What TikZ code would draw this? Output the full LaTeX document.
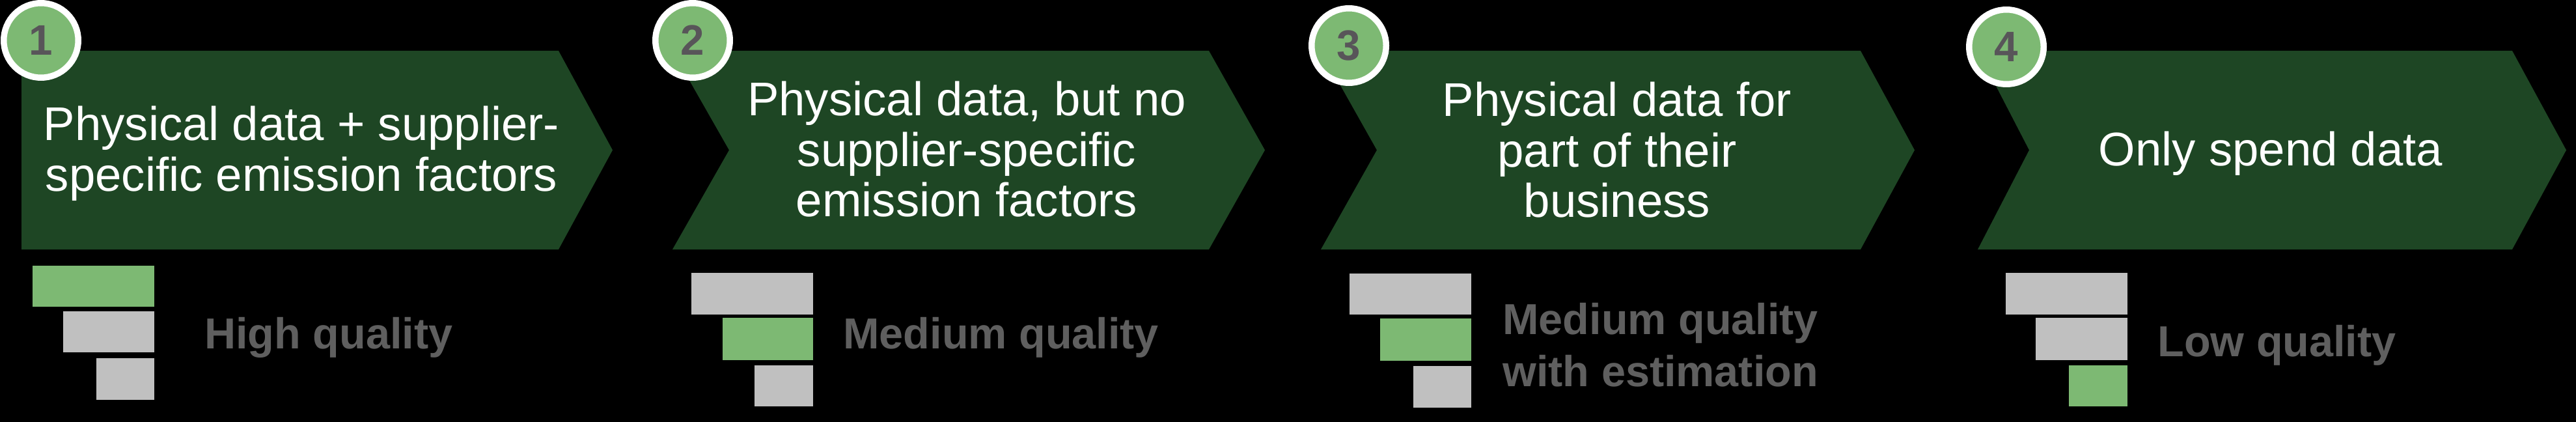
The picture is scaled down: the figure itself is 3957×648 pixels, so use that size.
\documentclass[tikz,border=0pt]{standalone}
\usepackage{fontspec}
\setmainfont{Liberation Sans}

\definecolor{chevgreen}{RGB}{30,70,36}
\definecolor{lightgreen}{RGB}{125,185,115}
\definecolor{bargray}{RGB}{192,192,192}
\definecolor{labelgray}{RGB}{95,95,95}
\definecolor{numgray}{RGB}{88,85,89}

\begin{document}
\begin{tikzpicture}[x=0.02cm, y=-0.02cm,
  chevron/.style={fill=chevgreen},
  greenbar/.style={fill=lightgreen},
  graybar/.style={fill=bargray},
  badge/.style={circle, fill=lightgreen, draw=white, line width=0.19cm,
    minimum size=2.29cm, inner sep=0pt, text=numgray,
    font=\fontsize{37.3}{40}\selectfont\bfseries},
  headtext/.style={anchor=north, align=center, inner sep=0pt, text=white,
    font=\fontsize{41.3}{44.1}\selectfont},
  quality/.style={inner sep=0pt, text=labelgray,
    font=\fontsize{37.9}{45.5}\selectfont\bfseries}]

  \useasboundingbox (0,0) rectangle (3957,648);
  \fill[black] (0,0) rectangle (3957,648);

  \fill[chevron] (33,78) -- (858,78) -- (941,230.5) -- (858,383) -- (33,383) -- cycle;
  \node[headtext] (t1) at (463,163) {Physical data + supplier-\\specific emission factors};
  \node[badge] (n1) at (63,62) {1};

    \fill[greenbar] (50,408) rectangle (237,471);
    \fill[graybar] (97,478) rectangle (237,541);
    \fill[graybar] (148,550) rectangle (237,614);
    \node[quality, anchor=base west] (q1) at (314,535) {High quality};

  \fill[chevron] (1033,78) -- (1857,78) -- (1943,230.5) -- (1857,383) -- (1033,383) -- (1120,230.5) -- cycle;
  \node[headtext] (t2) at (1485,125) {Physical data, but no\\supplier-specific\\emission factors};
  \node[badge] (n2) at (1064,62) {2};

    \fill[graybar] (1062,419) rectangle (1249,483);
    \fill[greenbar] (1110,488) rectangle (1249,553);
    \fill[graybar] (1159,561) rectangle (1249,624);
    \node[quality, anchor=base west] (q2) at (1295,535) {Medium quality};

  \fill[chevron] (2029,78) -- (2858,78) -- (2941,230.5) -- (2858,383) -- (2029,383) -- (2115,230.5) -- cycle;
  \node[headtext] (t3) at (2484,126) {Physical data for\\part of their\\business};
  \node[badge] (n3) at (2072,70) {3};

    \fill[graybar] (2073,420) rectangle (2260,483);
    \fill[greenbar] (2120,489) rectangle (2260,554);
    \fill[graybar] (2171,562) rectangle (2260,626);
    \node[quality, anchor=north west, align=left] (q3) at (2308,465) {Medium quality\\with estimation};

  \fill[chevron] (3038,78) -- (3859,78) -- (3942,230.5) -- (3859,383) -- (3038,383) -- (3117,230.5) -- cycle;
  \node[headtext] (t4) at (3488,202) {Only spend data};
  \node[badge] (n4) at (3082,72) {4};

    \fill[graybar] (3081,419) rectangle (3268,483);
    \fill[graybar] (3127,488) rectangle (3268,553);
    \fill[greenbar] (3178,561) rectangle (3268,624);
    \node[quality, anchor=base west] (q4) at (3314,547) {Low quality};

\end{tikzpicture}
\end{document}
